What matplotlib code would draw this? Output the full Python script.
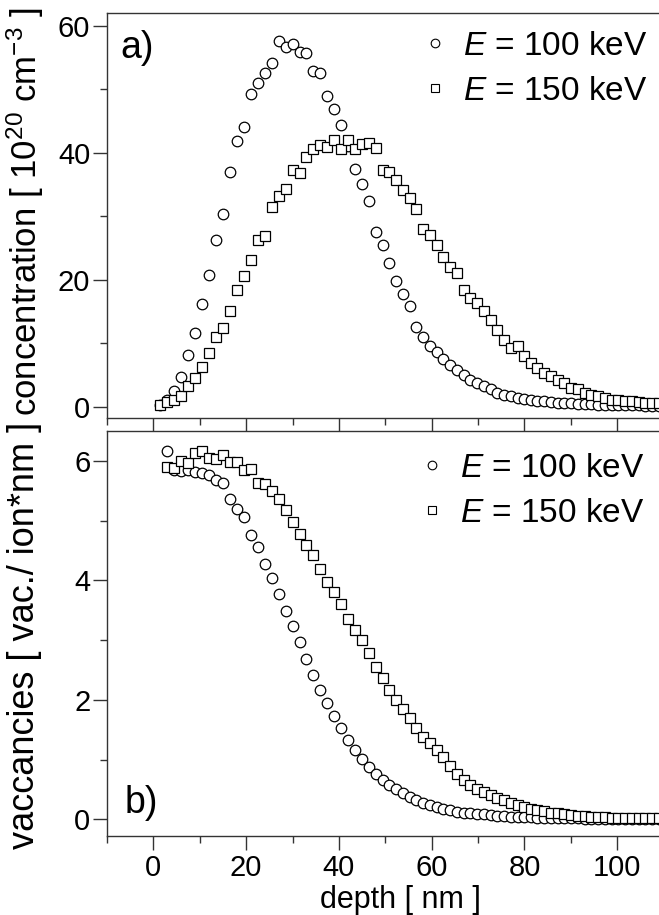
import numpy as np
import matplotlib.pyplot as plt
from matplotlib.lines import Line2D
from matplotlib.ticker import MultipleLocator

# depth grid [nm]
depth = [1.5, 3.0, 4.5, 6.0, 7.5, 9.0, 10.5, 12.0, 13.5, 15.0, 16.5, 18.0,
         19.5, 21.0, 22.5, 24.0, 25.5, 27.0, 28.5, 30.0, 31.5, 33.0, 34.5, 36.0,
         37.5, 39.0, 40.5, 42.0, 43.5, 45.0, 46.5, 48.0,
         49.5, 50.9, 52.4, 53.8, 55.3, 56.7, 58.2, 59.6, 61.1, 62.5, 64.0, 65.4,
         66.9, 68.3, 69.8, 71.2, 72.7, 74.1, 75.6, 77.0, 78.5, 79.9, 81.4, 82.8,
         84.3, 85.7, 87.2, 88.6, 90.1, 91.5, 93.0, 94.4, 95.9, 97.3, 98.8, 100.2,
         101.7, 103.1, 104.6, 106.0, 107.5, 108.9]

# a) concentration [1e20 cm^-3]
conc_100 = [0.3, 1.0, 2.4, 4.7, 8.2, 11.6, 16.2, 20.7, 26.2, 30.3, 37.0, 41.8,
            44.0, 49.2, 50.9, 52.6, 54.2, 57.6, 56.7, 57.1, 55.8, 55.7, 52.9, 52.6,
            48.9, 46.9, 44.4, 41.0, 37.5, 35.1, 32.4, 27.5,
            25.4, 22.6, 19.8, 17.8, 15.8, 12.6, 11.0, 9.6, 8.6, 7.5, 6.6, 5.8,
            4.9, 4.2, 3.7, 3.2, 2.7, 2.2, 1.9, 1.6, 1.4, 1.2, 1.0, 0.9,
            0.8, 0.7, 0.6, 0.55, 0.5, 0.45, 0.4, 0.35, 0.3, 0.3, 0.25, 0.25,
            0.2, 0.2, 0.2, 0.15, 0.15, 0.1]
conc_150 = [0.3, 0.7, 1.1, 1.6, 3.2, 4.5, 6.3, 8.5, 11.0, 12.4, 15.0, 18.4,
            20.5, 23.1, 26.2, 26.9, 31.4, 33.2, 34.2, 37.2, 36.8, 39.3, 40.6, 41.2,
            40.9, 42.0, 40.6, 42.0, 40.6, 41.4, 41.5, 40.8,
            37.2, 36.9, 35.7, 34.1, 32.8, 31.2, 28.0, 27.0, 25.4, 23.6, 22.0, 21.0,
            18.4, 17.1, 16.3, 15.0, 13.7, 12.1, 10.5, 9.2, 9.5, 8.0, 6.9, 6.1,
            5.3, 4.8, 4.2, 3.7, 2.9, 2.7, 2.2, 1.9, 1.6, 1.4, 1.1, 1.0,
            0.8, 0.8, 0.7, 0.6, 0.6, 0.5]

# b) vacancies [vac./ion*nm], starting from the second depth point
vac_100 = [6.16, 5.85, 5.83, 5.84, 5.82, 5.80, 5.77, 5.68, 5.63, 5.36, 5.19,
           5.06, 4.76, 4.56, 4.27, 4.04, 3.77, 3.49, 3.24, 2.96, 2.69, 2.41, 2.16,
           1.94, 1.73, 1.52, 1.33, 1.16, 1.01, 0.88, 0.76,
           0.65, 0.57, 0.51, 0.44, 0.38, 0.33, 0.28, 0.24, 0.20, 0.17, 0.15, 0.13,
           0.11, 0.10, 0.09, 0.08, 0.07, 0.06, 0.05, 0.045, 0.04, 0.035, 0.03, 0.025,
           0.02, 0.02, 0.02, 0.015, 0.015, 0.015, 0.01, 0.01, 0.01, 0.01, 0.01, 0.01,
           0.01, 0.01, 0.01, 0.01, 0.01, 0.01]
vac_150 = [5.90, 5.88, 5.99, 5.96, 6.13, 6.16, 6.05, 6.03, 6.10, 5.98, 5.98,
           5.85, 5.86, 5.63, 5.61, 5.49, 5.36, 5.18, 4.97, 4.78, 4.59, 4.42, 4.19,
           3.98, 3.80, 3.61, 3.36, 3.17, 3.00, 2.78, 2.55,
           2.36, 2.17, 1.99, 1.85, 1.69, 1.52, 1.38, 1.27, 1.16, 1.04, 0.90, 0.76,
           0.66, 0.58, 0.51, 0.45, 0.40, 0.36, 0.32, 0.28, 0.24, 0.21, 0.18, 0.16,
           0.14, 0.11, 0.10, 0.08, 0.07, 0.06, 0.05, 0.04, 0.035, 0.03, 0.025, 0.02,
           0.02, 0.02, 0.02, 0.02, 0.02, 0.02]

labels = [r'$E$ = 100 keV', r'$E$ = 150 keV']

plt.rcParams['font.family'] = ['Liberation Sans', 'DejaVu Sans']
plt.rcParams['mathtext.fontset'] = 'custom'
plt.rcParams['mathtext.rm'] = 'Liberation Sans'
plt.rcParams['mathtext.it'] = 'Liberation Sans:italic'

W, H = 659, 915
fig = plt.figure(figsize=(W / 100, H / 100), dpi=100)
ax1 = fig.add_axes([107 / W, 497 / H, 552 / W, 405 / H])
ax2 = fig.add_axes([107 / W, 79 / H, 552 / W, 405 / H])

spine_col = '#333333'
mk = dict(ls='none', ms=7.6, mfc='white', mec='black', mew=0.9)


def style(ax):
    ax.set_xlim(-10, 109)
    ax.spines['right'].set_visible(False)
    for s in ['left', 'bottom', 'top']:
        ax.spines[s].set_linewidth(1.0)
        ax.spines[s].set_color(spine_col)
    ax.tick_params(which='both', direction='out', top=False, right=False,
                   labelsize=21, width=1.0, color=spine_col)
    ax.tick_params(which='major', length=10)
    ax.tick_params(which='minor', length=5)
    ax.tick_params(axis='x', which='major', pad=3)
    ax.tick_params(axis='y', which='major', pad=2)
    ax.xaxis.set_major_locator(MultipleLocator(20))
    ax.xaxis.set_minor_locator(MultipleLocator(10))


def add_legend(ax, x, y):
    handles = [Line2D([], [], marker='o', ms=6.2, mfc='white', mec='black', mew=0.8, ls='none'),
               Line2D([], [], marker='s', ms=6.2, mfc='white', mec='black', mew=0.8, ls='none')]
    ax.legend(handles, labels, loc='upper left', bbox_to_anchor=(x / W, 1 - y / H),
              bbox_transform=fig.transFigure, frameon=False, fontsize=24,
              handlelength=0.7, handletextpad=0.5, labelspacing=0.42,
              borderpad=0, borderaxespad=0)


# panel a)
ax1.plot(depth, conc_100, marker='o', **mk)
ax1.plot(depth, conc_150, marker='s', **mk)
style(ax1)
ax1.set_ylim(-1.8, 62)
ax1.yaxis.set_major_locator(MultipleLocator(20))
ax1.yaxis.set_minor_locator(MultipleLocator(10))
ax1.tick_params(axis='x', labelbottom=False)
ax1.text(120 / W, 1 - 58 / H, 'a)', transform=fig.transFigure, fontsize=27,
         ha='left', va='baseline')
add_legend(ax1, 423, 31)

# panel b)
ax2.plot(depth[1:], vac_100, marker='o', **mk)
ax2.plot(depth[1:], vac_150, marker='s', **mk)
style(ax2)
ax2.set_ylim(-0.28, 6.5)
ax2.yaxis.set_major_locator(MultipleLocator(2))
ax2.yaxis.set_minor_locator(MultipleLocator(1))
ax2.text(125 / W, 1 - 813 / H, 'b)', transform=fig.transFigure, fontsize=27,
         ha='left', va='baseline')
add_legend(ax2, 420, 453)

# axis labels
ylab = dict(rotation=90, ha='center', va='center')
fig.text(25 / W, 1 - 212 / H, r'concentration [ 10$^{20}$ cm$^{-3}$ ]', fontsize=25, **ylab)
fig.text(25 / W, 1 - 635 / H, 'vaccancies [ vac./ ion*nm ]', fontsize=26, **ylab)
fig.text(400 / W, 1 - 908 / H, 'depth [ nm ]', fontsize=22, ha='center', va='baseline')

fig.savefig('out.png', dpi=100)
